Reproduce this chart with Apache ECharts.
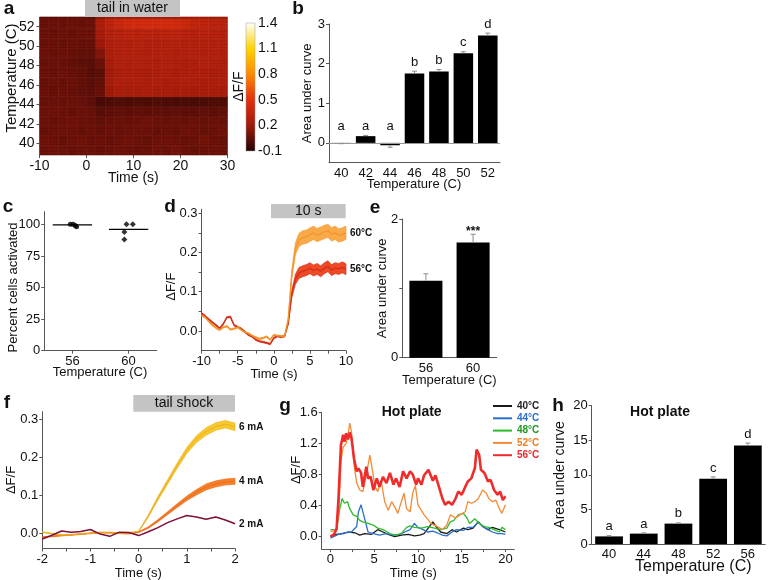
<!DOCTYPE html>
<html><head><meta charset="utf-8">
<script src="https://cdn.jsdelivr.net/npm/echarts@6/dist/echarts.min.js"></script>
<style>html,body{margin:0;padding:0;background:#fff}#c{width:768px;height:580px}</style>
</head><body><div id="c"></div>
<script>
// ---------------- DATA ----------------
// a: heatmap (rows = temperature, columns = time bins of 2 s)
const heatTimes = [-9,-7,-5,-3,-1,1,3,5,7,9,11,13,15,17,19,21,23,25,27,29];
const heatTemps = [39.3,40.3,41.3,42.3,43.3,44.3,45.3,46.3,47.3,48.3,49.3,50.3,51.3,52.3,53.3];
const heatRows = [
 [0.08,0.09,0.08,0.07,0.08,0.08,0.07,0.08,0.09,0.08,0.07,0.08,0.09,0.08,0.10,0.08,0.07,0.08,0.09,0.08],
 [0.09,0.08,0.07,0.08,0.09,0.07,0.08,0.07,0.08,0.09,0.08,0.07,0.08,0.09,0.08,0.07,0.08,0.10,0.08,0.07],
 [0.07,0.08,0.09,0.08,0.07,0.08,0.07,0.08,0.07,0.08,0.09,0.08,0.07,0.08,0.07,0.09,0.08,0.07,0.08,0.09],
 [0.08,0.07,0.08,0.09,0.08,0.07,0.06,0.07,0.08,0.07,0.08,0.09,0.08,0.07,0.08,0.07,0.08,0.07,0.08,0.07],
 [0.08,0.09,0.08,0.07,0.08,0.07,0.04,0.05,0.06,0.05,0.06,0.05,0.06,0.05,0.06,0.05,0.05,0.06,0.05,0.06],
 [0.07,0.08,0.07,0.08,0.07,0.05,0.00,0.01,0.02,0.01,0.02,0.01,0.02,0.01,0.00,0.01,0.00,0.01,0.02,0.01],
 [0.08,0.07,0.08,0.07,0.06,0.05,0.07,0.22,0.26,0.25,0.26,0.27,0.25,0.26,0.25,0.26,0.24,0.25,0.26,0.25],
 [0.07,0.08,0.07,0.08,0.06,0.04,0.06,0.24,0.28,0.27,0.28,0.27,0.28,0.26,0.27,0.28,0.27,0.26,0.27,0.28],
 [0.08,0.07,0.08,0.07,0.06,0.03,0.05,0.23,0.27,0.28,0.27,0.26,0.27,0.28,0.26,0.27,0.28,0.27,0.26,0.27],
 [0.07,0.08,0.07,0.06,0.05,0.04,0.08,0.25,0.29,0.28,0.29,0.28,0.27,0.29,0.28,0.27,0.28,0.29,0.28,0.27],
 [0.08,0.07,0.08,0.07,0.06,0.06,0.14,0.27,0.29,0.30,0.29,0.28,0.30,0.29,0.28,0.29,0.30,0.28,0.29,0.28],
 [0.07,0.08,0.07,0.08,0.07,0.07,0.20,0.28,0.30,0.29,0.31,0.30,0.29,0.30,0.31,0.29,0.30,0.29,0.30,0.29],
 [0.08,0.07,0.08,0.07,0.08,0.08,0.24,0.30,0.32,0.33,0.32,0.33,0.32,0.33,0.34,0.32,0.31,0.32,0.31,0.30],
 [0.07,0.08,0.07,0.08,0.07,0.08,0.26,0.34,0.40,0.43,0.44,0.45,0.44,0.45,0.43,0.40,0.36,0.34,0.33,0.32],
 [0.08,0.07,0.08,0.07,0.08,0.07,0.20,0.28,0.31,0.32,0.33,0.32,0.33,0.32,0.31,0.30,0.31,0.30,0.29,0.28]
];
const colorbarTicks = ['-0.1','0.2','0.5','0.8','1.1','1.4'];
const heatYTicks = [40,42,44,46,48,50,52];

// b
const bTemps = ['40','42','44','46','48','50','52'];
const bAUC = [-0.01,0.17,-0.06,1.75,1.80,2.26,2.71];
const bErr = [0.01,0.02,0.05,0.06,0.05,0.04,0.06];
const bLetters = ['a','a','a','b','b','c','d'];

// c
const cCats = [56,60];
const c56X = [55.85,56.05,56.2,56.3];
const c56Y = [100,100,99,98];
const c60X = [59.85,60.3,59.7,59.7];
const c60Y = [100,100,94,88];
const cMean = [99.5,96];

// d
const dTime = [-10,-9.5,-9,-8.5,-8,-7.5,-7,-6.5,-6,-5.5,-5,-4.5,-4,-3.5,-3,-2.5,-2,-1.5,-1,-0.5,0,0.5,1,1.5,2,2.5,3,3.5,4,4.5,5,5.5,6,6.5,7,7.5,8,8.5,9,9.5,10];
const d56 = [0.045,0.038,0.03,0.022,0.015,0.007,0.018,0.035,0.036,0.015,0.01,0.006,-0.002,-0.01,-0.014,-0.022,-0.026,-0.028,-0.03,-0.033,-0.018,-0.013,-0.015,-0.013,0.02,0.095,0.132,0.148,0.152,0.155,0.16,0.154,0.158,0.152,0.16,0.165,0.155,0.16,0.158,0.162,0.157];
const d56Sem = [0.002,0.002,0.002,0.002,0.002,0.002,0.002,0.002,0.002,0.002,0.002,0.002,0.002,0.002,0.002,0.002,0.002,0.002,0.002,0.002,0.002,0.002,0.002,0.002,0.004,0.01,0.013,0.014,0.014,0.014,0.014,0.014,0.014,0.014,0.014,0.014,0.014,0.014,0.014,0.014,0.014];
const d60 = [0.04,0.035,0.024,0.015,0.008,0.003,0.01,0.012,0.004,0.006,0.01,0.003,-0.003,-0.006,-0.012,-0.016,-0.02,-0.018,-0.014,-0.022,-0.01,-0.012,-0.013,-0.014,0.03,0.145,0.21,0.232,0.238,0.24,0.245,0.25,0.244,0.248,0.252,0.255,0.246,0.25,0.243,0.246,0.25];
const d60Sem = [0.002,0.002,0.002,0.002,0.002,0.002,0.002,0.002,0.002,0.002,0.002,0.002,0.002,0.002,0.002,0.002,0.002,0.002,0.002,0.002,0.002,0.002,0.002,0.002,0.005,0.012,0.015,0.017,0.017,0.017,0.017,0.017,0.017,0.017,0.017,0.017,0.017,0.017,0.017,0.017,0.017];

// e
const eTemps = ['56','60'];
const eAUC = [1.11,1.66];
const eErr = [0.1,0.12];
const eSig = ['','***'];

// f
const fTime = [-2,-1.8,-1.6,-1.4,-1.2,-1,-0.8,-0.6,-0.4,-0.2,0,0.2,0.4,0.6,0.8,1,1.2,1.4,1.6,1.8,2];
const f2 = [-0.015,-0.005,0.006,0.003,0.005,0.01,-0.002,-0.008,0.003,0.002,-0.006,0.004,0.015,0.028,0.038,0.047,0.043,0.037,0.043,0.035,0.025];
const f4 = [-0.01,-0.008,-0.006,-0.004,-0.002,0.0,0.002,0.002,0.0,-0.001,0.003,0.015,0.033,0.053,0.073,0.092,0.108,0.122,0.13,0.135,0.137];
const f4Sem = [0.001,0.001,0.001,0.001,0.001,0.001,0.001,0.001,0.001,0.001,0.001,0.002,0.003,0.004,0.005,0.006,0.007,0.008,0.008,0.008,0.008];
const f6 = [0.003,-0.001,-0.005,-0.004,-0.002,0.0,0.002,0.001,0.0,0.001,0.005,0.045,0.092,0.135,0.178,0.218,0.248,0.268,0.281,0.287,0.28];
const f6Sem = [0.001,0.001,0.001,0.001,0.001,0.001,0.001,0.001,0.001,0.001,0.001,0.003,0.005,0.006,0.007,0.008,0.009,0.01,0.01,0.01,0.01];

// g (hot plate traces)
const g40T = [0,0.7,1.45,2.0,2.8,3.35,3.9,4.7,5.4,6.0,6.6,7.35,8.1,8.9,9.6,10.2,10.7,11.3,11.7,12.0,12.6,13.3,13.9,14.4,15.2,15.7,16.3,16.9,17.4,18.0,18.5,19.3,20.0];
const g40V = [0.0,0.03,0.04,0.06,0.05,0.02,0.04,0.03,0.09,0.06,0.03,0.0,0.02,0.03,0.01,0.02,0.04,0.13,0.19,0.14,0.06,0.04,0.09,0.06,0.11,0.09,0.11,0.19,0.13,0.09,0.12,0.09,0.06];
const g44T = [0,0.9,1.6,2.4,3.0,3.2,3.5,3.7,4.0,4.3,4.9,5.6,6.4,7.2,7.9,8.5,9.1,9.6,10.0,10.6,11.1,11.7,12.2,12.8,13.3,13.9,14.4,15.2,15.7,16.3,16.9,17.4,18.0,18.5,19.1,19.6,20.0];
const g44V = [-0.02,0.03,0.05,0.06,0.13,0.32,0.41,0.39,0.19,0.06,0.04,0.02,0.04,0.02,0.03,0.06,0.09,0.17,0.12,0.09,0.06,0.07,0.05,0.02,0.01,0.06,0.09,0.08,0.12,0.12,0.19,0.13,0.09,0.06,0.04,0.04,0.03];
const g48T = [0,0.7,1.07,1.33,1.6,1.95,2.2,2.6,3.0,3.35,3.7,4.3,4.9,5.4,6.0,6.8,7.35,8.1,8.7,9.1,9.6,10.4,11.1,11.9,12.6,13.3,13.7,14.1,14.6,15.2,15.6,15.9,16.5,17.0,17.6,18.1,18.7,19.3,19.6,20.0];
const g48V = [0.09,0.09,0.36,0.49,0.43,0.45,0.36,0.28,0.26,0.21,0.19,0.17,0.15,0.11,0.09,0.04,0.02,0.04,0.12,0.14,0.12,0.11,0.13,0.11,0.09,0.11,0.19,0.21,0.28,0.3,0.24,0.17,0.23,0.17,0.13,0.12,0.09,0.06,0.12,0.09];
const g52T = [0,0.7,0.95,1.2,1.45,1.8,2.0,2.2,2.4,2.7,3.0,3.35,3.7,4.1,4.5,4.7,5.1,5.4,5.8,6.2,6.6,7.0,7.4,7.7,8.1,8.4,8.7,9.1,9.4,9.7,10.0,10.7,11.5,12.2,12.8,13.3,13.7,14.3,14.8,15.4,15.7,16.1,16.5,16.9,17.4,17.8,18.1,18.5,18.9,19.3,19.6,20.0];
const g52V = [0.06,0.1,0.32,0.97,1.15,1.2,1.3,1.46,1.35,0.92,0.69,0.6,0.58,0.79,1.05,0.92,0.64,0.58,0.71,0.45,0.34,0.45,0.37,0.3,0.45,0.56,0.36,0.32,0.56,0.66,0.41,0.28,0.17,0.13,0.09,0.15,0.28,0.24,0.28,0.32,0.45,0.43,0.45,0.49,0.6,0.56,0.49,0.45,0.47,0.36,0.3,0.41];
const g56T = [0,0.4,0.7,0.9,1.2,1.45,1.6,1.8,2.0,2.2,2.4,2.7,3.0,3.2,3.5,3.7,4.1,4.3,4.6,4.9,5.3,5.6,6.0,6.4,6.8,7.2,7.5,7.9,8.3,8.7,9.1,9.4,9.8,10.0,10.4,10.7,11.2,11.7,12.0,12.4,12.8,13.1,13.5,13.9,14.3,14.6,15.0,15.4,15.7,16.1,16.5,16.7,17.0,17.2,17.6,18.0,18.3,18.7,19.1,19.4,19.7,20.0];
const g56V = [0.0,0.03,0.1,0.45,1.18,1.31,1.22,1.33,1.25,1.34,1.27,1.0,0.84,0.88,0.82,0.64,0.9,0.75,0.77,0.6,0.75,0.64,0.77,0.69,0.82,0.67,0.75,0.64,0.84,0.75,0.84,0.8,0.67,0.75,0.67,0.79,0.86,0.72,0.79,0.64,0.49,0.41,0.45,0.41,0.49,0.58,0.54,0.64,0.71,0.75,0.88,1.12,1.05,0.86,0.82,0.71,0.73,0.6,0.54,0.58,0.47,0.52];
const gNames = ['40°C','44°C','48°C','52°C','56°C'];

// h
const hTemps = ['40','44','48','52','56'];
const hAUC = [1.1,1.5,2.95,9.45,14.25];
const hErr = [0.1,0.1,0.1,0.25,0.35];
const hLetters = ['a','a','b','c','d'];

// ---------------- STYLE ----------------
const FONT = '"Liberation Sans", Arial, Helvetica, sans-serif';
const AX = '#555';
const heatColors = ['#200404','#a01a0c','#e2300e','#ff8a00','#ffd400','#ffffff'];

function valAxis(gi, min, max, labels, ticks, o) {
  o = o || {};
  const lab = {show: true, customValues: labels, fontSize: o.fs || 13, color: '#111', margin: o.margin || 4, fontFamily: FONT};
  if (o.fmt) lab.formatter = o.fmt;
  return {
    type: 'value', gridIndex: gi, min, max,
    splitLine: {show: false},
    axisLine: {show: !o.noLine, onZero: false, lineStyle: {color: AX, width: 1}},
    axisTick: {show: true, length: 3, customValues: ticks || labels, lineStyle: {color: AX}},
    axisLabel: lab
  };
}
function catAxis(gi, data, o) {
  o = o || {};
  return {
    type: 'category', gridIndex: gi, data,
    axisLine: {onZero: false, lineStyle: {color: AX}},
    axisTick: {length: 3, lineStyle: {color: AX}},
    axisLabel: {fontSize: o.fs || 13, color: '#111', margin: 4, fontFamily: FONT},
    splitLine: {show: false}
  };
}
const f1 = v => v.toFixed(1);
const zip = (a, b) => a.slice(0, Math.min(a.length, b.length)).map((x, i) => [x, b[i]]);

// heat data
const heatData = [];
heatRows.forEach((row, i) => row.forEach((v, j) => heatData.push([heatTimes[j], heatTemps[i], v])));
const HALF_T = 1, HALF_TEMP = 0.5;

function errSeries(xi, yi, vals, errs, letters, o) {
  return {
    type: 'custom', xAxisIndex: xi, yAxisIndex: yi, z: 5, silent: true,
    data: vals.map((v, i) => [i, v, errs[i]]),
    renderItem(params, api) {
      const i = api.value(0), v = api.value(1), e = api.value(2);
      const end = v >= 0 ? v + e : v - e;
      const a = api.coord([i, v]), b = api.coord([i, end]);
      const top = Math.max(v >= 0 ? v + e : 0, o.minTop);
      const p = api.coord([i, top]);
      const ch = [
        {type: 'line', shape: {x1: a[0], y1: a[1], x2: b[0], y2: b[1]}, style: {stroke: '#8c8c8c', lineWidth: 1}},
        {type: 'line', shape: {x1: b[0] - 2.5, y1: b[1], x2: b[0] + 2.5, y2: b[1]}, style: {stroke: '#8c8c8c', lineWidth: 1}}
      ];
      const lab = letters[params.dataIndex];
      if (lab) ch.push({type: 'text', x: p[0], y: p[1] - o.pad, style: {text: lab, fill: '#111', fontSize: o.fs, fontWeight: o.bold ? 'bold' : 'normal', fontFamily: FONT, align: 'center', verticalAlign: 'middle'}});
      return {type: 'group', children: ch};
    }
  };
}
// mean ± sem band drawn as one polygon through the axis scales, plus the mean line
function bandSeries(xi, yi, times, mean, sem, fill, line, lw, name, label) {
  const band = {
    type: 'custom', xAxisIndex: xi, yAxisIndex: yi, silent: true, z: 2,
    data: times.map((t, k) => [t, mean[k] - sem[k], mean[k] + sem[k]]),
    encode: {x: 0, y: [1, 2]},
    renderItem(params, api) {
      if (params.dataIndex !== 0) return null;
      const up = [], lo = [];
      for (let k = 0; k < times.length; k++) {
        up.push(api.coord([times[k], mean[k] + sem[k]]));
        lo.push(api.coord([times[k], mean[k] - sem[k]]));
      }
      return {type: 'polygon', shape: {points: up.concat(lo.reverse())}, style: {fill, stroke: line, lineWidth: 0.6}};
    }
  };
  const mid = {type: 'line', name, xAxisIndex: xi, yAxisIndex: yi, data: zip(times, mean), symbol: 'none', lineStyle: {color: line, width: lw}, z: 3, silent: true};
  if (label) mid.endLabel = {show: true, formatter: label, color: '#111', fontSize: 10, fontWeight: 'bold', fontFamily: FONT, distance: 4};
  return [band, mid];
}

// graphics
const G = [];
function T(x, y, text, size, o) {
  o = o || {};
  G.push({type: 'text', x, y, rotation: o.rot ? Math.PI / 2 : 0, z: 50, silent: true,
    style: {text, fontSize: size, fontWeight: o.bold ? 'bold' : 'normal', fontFamily: FONT, fill: o.color || '#111', align: 'center', verticalAlign: 'middle'}});
}
function R(x, y, w, h, fill) { G.push({type: 'rect', shape: {x, y, width: w, height: h}, style: {fill}, z: 40, silent: true}); }

R(85, 0, 95, 16.7, '#c4c4c4'); T(132.5, 8.6, 'tail in water', 14);
R(271, 204, 74.7, 14.3, '#c4c4c4'); T(308.3, 211.3, '10 s', 14);
R(133.3, 395, 101.7, 16.7, '#c4c4c4'); T(184, 403.4, 'tail shock', 14);
T(9, 9, 'a', 19, {bold: 1}); T(298, 9, 'b', 19, {bold: 1}); T(8, 206.5, 'c', 19, {bold: 1});
T(170, 207, 'd', 19, {bold: 1}); T(375, 207.5, 'e', 19, {bold: 1}); T(7, 403, 'f', 19, {bold: 1});
T(285, 406, 'g', 19, {bold: 1}); T(558, 406, 'h', 19, {bold: 1});
T(11.7, 78, 'Temperature (C)', 15, {rot: 1});
T(133.3, 178.3, 'Time (s)', 14);
T(239.5, 86.7, 'ΔF/F', 14, {rot: 1});
T(307.3, 93.3, 'Area under curve', 13, {rot: 1});
T(414, 184.3, 'Temperature (C)', 13);
T(13.3, 287.5, 'Percent cells activated', 13, {rot: 1});
T(100, 372.7, 'Temperature (C)', 13);
T(171, 286.7, 'ΔF/F', 13, {rot: 1});
T(274, 374.3, 'Time (s)', 13);
T(382.7, 288.3, 'Area under curve', 13, {rot: 1});
T(449.3, 380.7, 'Temperature (C)', 13);
T(11.7, 480, 'ΔF/F', 13, {rot: 1});
T(138.3, 573.3, 'Time (s)', 13);
T(296, 470, 'ΔF/F', 13, {rot: 1});
T(413.3, 573.3, 'Time (s)', 13);
T(411.7, 412.3, 'Hot plate', 14, {bold: 1});
T(560, 475, 'Area under curve', 14, {rot: 1});
T(693.3, 566.7, 'Temperature (C)', 16);
T(660, 412.3, 'Hot plate', 14, {bold: 1});
G.push({type: 'rect', shape: {x: 246, y: 23, width: 9, height: 128}, z: 40, silent: true,
  style: {fill: new echarts.graphic.LinearGradient(0, 1, 0, 0, heatColors.map((c, i) => ({offset: i / (heatColors.length - 1), color: c}))), stroke: '#999', lineWidth: 0.5}});

const gColors = ['#1a1a1a', '#2b6fce', '#2dbb2d', '#f58a35', '#ee2c2c'];
const gText = ['#222', '#2b6fce', '#229922', '#f07e20', '#ee2a2a'];
const gData = [zip(g40T, g40V), zip(g44T, g44V), zip(g48T, g48V), zip(g52T, g52V), zip(g56T, g56V)];

const series = [];
// 0: heatmap
series.push({
  type: 'custom', xAxisIndex: 0, yAxisIndex: 0, data: heatData, silent: true,
  encode: {x: 0, y: 1},
  renderItem(params, api) {
    const t = api.value(0), T0 = api.value(1);
    const p0 = api.coord([t - HALF_T, T0 + HALF_TEMP]);
    const p1 = api.coord([t + HALF_T, T0 - HALF_TEMP]);
    const cs = params.coordSys;
    const shape = echarts.graphic.clipRectByRect(
      {x: p0[0], y: p0[1], width: p1[0] - p0[0], height: p1[1] - p0[1]},
      {x: cs.x, y: cs.y, width: cs.width, height: cs.height});
    if (!shape) return null;
    const c = api.visual('color');
    const ch = [{type: 'rect', shape, style: {fill: c, stroke: c, lineWidth: 0.6}}];
    const step = shape.height / 3;
    for (let s = 1; s <= 3; s++) {
      const yy = shape.y + s * step - 0.5;
      ch.push({type: 'line', shape: {x1: shape.x, y1: yy, x2: shape.x + shape.width, y2: yy}, style: {stroke: 'rgba(0,0,0,0.13)', lineWidth: 0.8}});
    }
    return {type: 'group', children: ch};
  }
});
// b
series.push({type: 'bar', xAxisIndex: 2, yAxisIndex: 2, data: bAUC, barWidth: '80%', itemStyle: {color: '#000'}, silent: true,
  markLine: {silent: true, symbol: 'none', label: {show: false}, lineStyle: {color: '#999', width: 1, type: 'solid'}, data: [{yAxis: 0}]}});
series.push(errSeries(2, 2, bAUC, bErr, bLetters, {minTop: 0.2, pad: 9, fs: 13}));
// c
series.push({type: 'scatter', xAxisIndex: 3, yAxisIndex: 3, data: zip(c56X, c56Y), symbolSize: 5, itemStyle: {color: '#000'}, silent: true});
series.push({type: 'scatter', xAxisIndex: 3, yAxisIndex: 3, data: zip(c60X, c60Y), symbol: 'diamond', symbolSize: 6, itemStyle: {color: '#000'}, silent: true});
const C_HALF = 1.4;
series.push({type: 'custom', xAxisIndex: 3, yAxisIndex: 3, data: zip(cCats, cMean), silent: true,
  renderItem(params, api) {
    const a = api.coord([api.value(0) - C_HALF, api.value(1)]);
    const b = api.coord([api.value(0) + C_HALF, api.value(1)]);
    return {type: 'line', shape: {x1: a[0], y1: a[1], x2: b[0], y2: b[1]}, style: {stroke: '#000', lineWidth: 1.2}};
  }});
// d
series.push(...bandSeries(4, 4, dTime, d56, d56Sem, '#ef4a26', '#d0301e', 1.3, 'd56', '56°C'));
series.push(...bandSeries(4, 4, dTime, d60, d60Sem, '#f9aa48', '#f3952e', 1.3, 'd60', '60°C'));
// e
series.push({type: 'bar', xAxisIndex: 5, yAxisIndex: 5, data: eAUC, barWidth: '70%', itemStyle: {color: '#000'}, silent: true});
series.push(errSeries(5, 5, eAUC, eErr, eSig, {minTop: 0, pad: 3, fs: 12, bold: true}));
// f
series.push({type: 'line', xAxisIndex: 6, yAxisIndex: 6, data: zip(fTime, f2), symbol: 'none', lineStyle: {color: '#7d1038', width: 1.5}, z: 4, silent: true,
  endLabel: {show: true, formatter: '2 mA', color: '#111', fontSize: 10, fontWeight: 'bold', fontFamily: FONT, distance: 4}});
series.push(...bandSeries(6, 6, fTime, f4, f4Sem, '#f5822a', '#ec6a1a', 1, 'f4', '4 mA'));
series.push(...bandSeries(6, 6, fTime, f6, f6Sem, '#f8c92e', '#eab020', 1, 'f6', '6 mA'));
// g
gNames.forEach((n, i) => {
  series.push({type: 'line', name: n, xAxisIndex: 7, yAxisIndex: 7, data: gData[i], symbol: 'none', silent: true,
    lineStyle: {color: gColors[i], width: i === 4 ? 2.6 : 1.3}, itemStyle: {color: gColors[i]}, z: 3 + i});
});
// h
series.push({type: 'bar', xAxisIndex: 8, yAxisIndex: 8, data: hAUC, barWidth: '80%', itemStyle: {color: '#000'}, silent: true});
series.push(errSeries(8, 8, hAUC, hErr, hLetters, {minTop: 0, pad: 9, fs: 13}));

const option = {
  animation: false,
  backgroundColor: '#fff',
  textStyle: {fontFamily: FONT},
  grid: [
    {left: 39.5, top: 17, width: 188, height: 138},
    {left: 246, top: 23, width: 9, height: 128},
    {left: 329, top: 24, width: 171, height: 138.7},
    {left: 44.3, top: 211.7, width: 112.4, height: 139},
    {left: 201.6, top: 209.2, width: 144.4, height: 141.5},
    {left: 402.3, top: 219, width: 94.4, height: 138.7},
    {left: 42.3, top: 411.7, width: 192.7, height: 136.8},
    {left: 321.7, top: 412.3, width: 192.5, height: 136.8},
    {left: 591.7, top: 405.7, width: 173.5, height: 138.3}
  ],
  xAxis: [
    valAxis(0, -10, 30, [-10, 0, 10, 20, 30], null, {fs: 14, noLine: true}),
    {type: 'value', gridIndex: 1, show: false},
    catAxis(2, bTemps),
    valAxis(3, 54, 62, cCats),
    valAxis(4, -10, 10, [-10, -5, 0, 5, 10], [-10, -7.5, -5, -2.5, 0, 2.5, 5, 7.5, 10]),
    catAxis(5, eTemps),
    valAxis(6, -2, 2, [-2, -1, 0, 1, 2], [-2, -1.5, -1, -0.5, 0, 0.5, 1, 1.5, 2]),
    valAxis(7, -1, 21, [0, 5, 10, 15, 20], [0, 2.5, 5, 7.5, 10, 12.5, 15, 17.5, 20]),
    catAxis(8, hTemps)
  ],
  yAxis: [
    valAxis(0, 38.8, 53, heatYTicks, null, {fs: 14, noLine: true, margin: 5}),
    {type: 'category', gridIndex: 1, data: colorbarTicks, boundaryGap: false, position: 'right',
      axisLine: {show: false}, axisTick: {show: false}, splitLine: {show: false},
      axisLabel: {fontSize: 14, color: '#111', margin: 3, fontFamily: FONT}},
    valAxis(2, -0.5, 3, [0, 1, 2, 3]),
    valAxis(3, 0, 110, [0, 25, 50, 75, 100]),
    valAxis(4, -0.05, 0.31, [0, 0.1, 0.2, 0.3], [0, 0.05, 0.1, 0.15, 0.2, 0.25, 0.3], {fmt: f1}),
    valAxis(5, 0, 2, [0, 2], [0, 1, 2]),
    valAxis(6, -0.04, 0.32, [0, 0.1, 0.2, 0.3], null, {fmt: f1}),
    valAxis(7, -0.16, 1.6, [0, 0.4, 0.8, 1.2, 1.6], null, {fmt: f1}),
    valAxis(8, 0, 20, [0, 5, 10, 15, 20])
  ],
  visualMap: [{type: 'continuous', show: false, seriesIndex: 0, dimension: 2, min: -0.1, max: 1.4, inRange: {color: heatColors}}],
  legend: {
    orient: 'vertical', left: 493, top: 401, padding: 0, itemGap: 2.3, itemWidth: 19, itemHeight: 2,
    icon: 'rect', selectedMode: false,
    textStyle: {fontSize: 10, fontWeight: 'bold', fontFamily: FONT},
    data: gNames.map((n, i) => ({name: n, textStyle: {color: gText[i]}}))
  },
  graphic: G,
  series
};
const chart = echarts.init(document.getElementById('c'), null, {renderer: 'canvas'});
chart.setOption(option);
</script></body></html>
